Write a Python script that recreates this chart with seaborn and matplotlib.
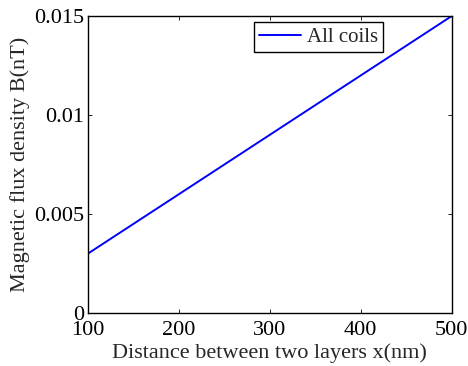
import matplotlib
matplotlib.use("Agg")
import matplotlib.pyplot as plt
import seaborn as sns
import pandas as pd

distance_nm = [100, 150, 200, 250, 300, 350, 400, 450, 500]
flux_nT = [0.0030, 0.0045, 0.0060, 0.0075, 0.0090, 0.0105, 0.0120, 0.0135, 0.0150]
series_name = "All coils"
x_ticks = [100, 200, 300, 400, 500]
y_ticks = [0, 0.005, 0.01, 0.015]
y_tick_labels = ["0", "0.005", "0.01", "0.015"]

sns.set_style("ticks")
plt.rcParams["font.family"] = ["Liberation Serif", "DejaVu Serif"]

df = pd.DataFrame({"x": distance_nm, "B": flux_nT, "series": series_name})

fig = plt.figure(figsize=(4.68, 3.66), dpi=100)
ax = fig.add_axes([0.188, 0.145, 0.777, 0.811])
sns.lineplot(data=df, x="x", y="B", hue="series", palette=["#0000ff"],
             linewidth=1.4, ax=ax)

ax.set_xlim(100, 500)
ax.set_ylim(0, 0.015)
ax.set_xticks(x_ticks)
ax.set_xticklabels([str(t) for t in x_ticks])
ax.set_yticks(y_ticks)
ax.set_yticklabels(y_tick_labels)
ax.tick_params(direction="in", length=3, width=0.6, top=True, right=True,
               labelsize=16, colors="black")
ax.tick_params(axis="x", pad=6)
ax.tick_params(axis="y", pad=3)
for s in ax.spines.values():
    s.set_visible(True)
    s.set_linewidth(1.0)
    s.set_color("black")

ax.set_xlabel("Distance between two layers x(nm)", fontsize=16, labelpad=2)
ax.set_ylabel("Magnetic flux density B(nT)", fontsize=16, labelpad=3)

leg = ax.legend(loc="upper left", bbox_to_anchor=(0.456, 0.98), fontsize=15,
                frameon=True, fancybox=False, borderpad=0.25, handlelength=2.0,
                handletextpad=0.3, borderaxespad=0)
leg.get_frame().set_edgecolor("black")
leg.get_frame().set_linewidth(1.0)
leg.get_frame().set_alpha(1)
leg.set_title(None)

fig.savefig("out.png", dpi=100)
